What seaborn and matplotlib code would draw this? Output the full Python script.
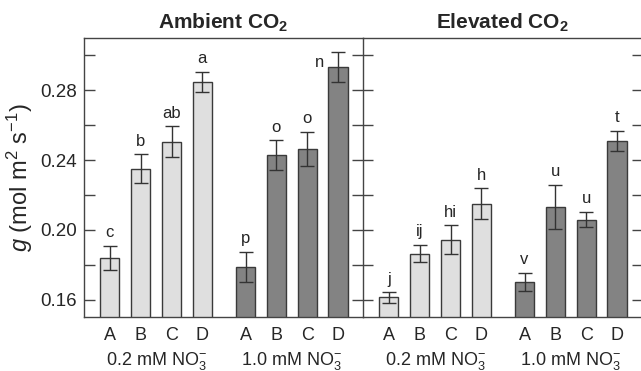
import matplotlib
matplotlib.use("Agg")
import matplotlib.pyplot as plt
import seaborn as sns
import pandas as pd
import numpy as np

sns.set_style("ticks")
plt.rcParams['font.family'] = ['Liberation Sans', 'DejaVu Sans']
plt.rcParams['mathtext.fontset'] = 'custom'
plt.rcParams['mathtext.rm'] = 'Liberation Sans'
plt.rcParams['mathtext.it'] = 'Liberation Sans:italic'
plt.rcParams['mathtext.bf'] = 'Liberation Sans:bold'

genotypes = ["A", "B", "C", "D"]
nitrate_labels = ["0.2 mM NO$_3^{-}$", "1.0 mM NO$_3^{-}$"]
panel_titles = ["Ambient CO$_\\mathbf{2}$", "Elevated CO$_\\mathbf{2}$"]

amb_02 = [0.184, 0.235, 0.2505, 0.285]
amb_02_err = [0.007, 0.0083, 0.009, 0.0057]
amb_10 = [0.1787, 0.2429, 0.2463, 0.2931]
amb_10_err = [0.0087, 0.0085, 0.0098, 0.0086]
ele_02 = [0.1613, 0.1863, 0.1943, 0.215]
ele_02_err = [0.003, 0.005, 0.0083, 0.0088]
ele_10 = [0.1701, 0.2131, 0.2059, 0.2511]
ele_10_err = [0.0054, 0.0127, 0.0043, 0.0058]

amb_02_letters = ["c", "b", "ab", "a"]
amb_10_letters = ["p", "o", "o", "n"]
ele_02_letters = ["j", "ij", "hi", "h"]
ele_10_letters = ["v", "u", "u", "t"]

positions_02 = [0, 1, 2, 3]
positions_10 = [4.4, 5.4, 6.4, 7.4]

light = "#dfdfdf"
dark = "#838383"
edge = "#3a3a3a"

fig = plt.figure(figsize=(6.41, 3.71), dpi=100)
W, H = 641, 371
ax_left = fig.add_axes([84 / W, (H - 317) / H, 279 / W, (317 - 38) / H])
ax_right = fig.add_axes([363 / W, (H - 317) / H, 279 / W, (317 - 38) / H])
ax_right.patch.set_visible(False)

panels = [
    (ax_left, amb_02, amb_02_err, amb_10, amb_10_err, amb_02_letters, amb_10_letters),
    (ax_right, ele_02, ele_02_err, ele_10, ele_10_err, ele_02_letters, ele_10_letters),
]

for i, (ax, v02, e02, v10, e10, l02, l10) in enumerate(panels):
    df = pd.DataFrame({
        "pos": positions_02 + positions_10,
        "g": v02 + v10,
        "err": e02 + e10,
        "nitrate": ["0.2"] * 4 + ["1.0"] * 4,
        "letter": l02 + l10,
    })
    sns.barplot(data=df, x="pos", y="g", hue="nitrate", native_scale=True,
                palette={"0.2": light, "1.0": dark}, dodge=False, width=0.62,
                edgecolor=edge, linewidth=1.0, legend=False, ax=ax, errorbar=None)
    ax.errorbar(df["pos"], df["g"], yerr=df["err"], fmt="none", ecolor="#333333",
                elinewidth=1.0, capsize=4.8, capthick=1.0)
    for j, row in df.iterrows():
        top = row["g"] + row["err"]
        if i == 0 and j == 7:
            ax.annotate(row["letter"], (row["pos"], top), xytext=(-10, -7),
                        textcoords="offset points", ha="right", va="center", fontsize=12)
        else:
            ax.annotate(row["letter"], (row["pos"], top), xytext=(0, 4),
                        textcoords="offset points", ha="center", va="bottom", fontsize=12)
    ax.set_xlim(-0.84, 8.21)
    ax.set_ylim(0.15, 0.31)
    ax.set_xticks(positions_02 + positions_10)
    ax.set_xticklabels(genotypes * 2, fontsize=13)
    ax.tick_params(axis="x", length=0, pad=7)
    ax.set_xlabel("")
    ax.set_ylabel("")
    ax.text(1.5, -0.172, nitrate_labels[0], transform=ax.get_xaxis_transform(),
            ha="center", va="baseline", fontsize=13)
    ax.text(5.9, -0.172, nitrate_labels[1], transform=ax.get_xaxis_transform(),
            ha="center", va="baseline", fontsize=13)
    ax.set_title(panel_titles[i], fontsize=15, fontweight="bold", pad=7)
    ax.set_yticks([0.16, 0.20, 0.24, 0.28])
    ax.set_yticks([0.18, 0.22, 0.26, 0.30], minor=True)
    for s in ax.spines.values():
        s.set_linewidth(1.0)
        s.set_color("#444444")

ax_left.set_yticklabels(["0.16", "0.20", "0.24", "0.28"], fontsize=13.5)
ax_left.tick_params(axis="y", which="both", direction="in", length=8, width=1,
                    left=True, right=True, color="#444444", pad=5)
ax_left.set_ylabel("$g$ (mol m$^2$ s$^{-1}$)", fontsize=17, labelpad=4)

ax_right.tick_params(axis="y", which="both", direction="in", length=7, width=1,
                     left=True, right=True, labelleft=False, color="#444444")
ax_right.spines["left"].set_visible(False)

fig.savefig("out.png", dpi=100)
